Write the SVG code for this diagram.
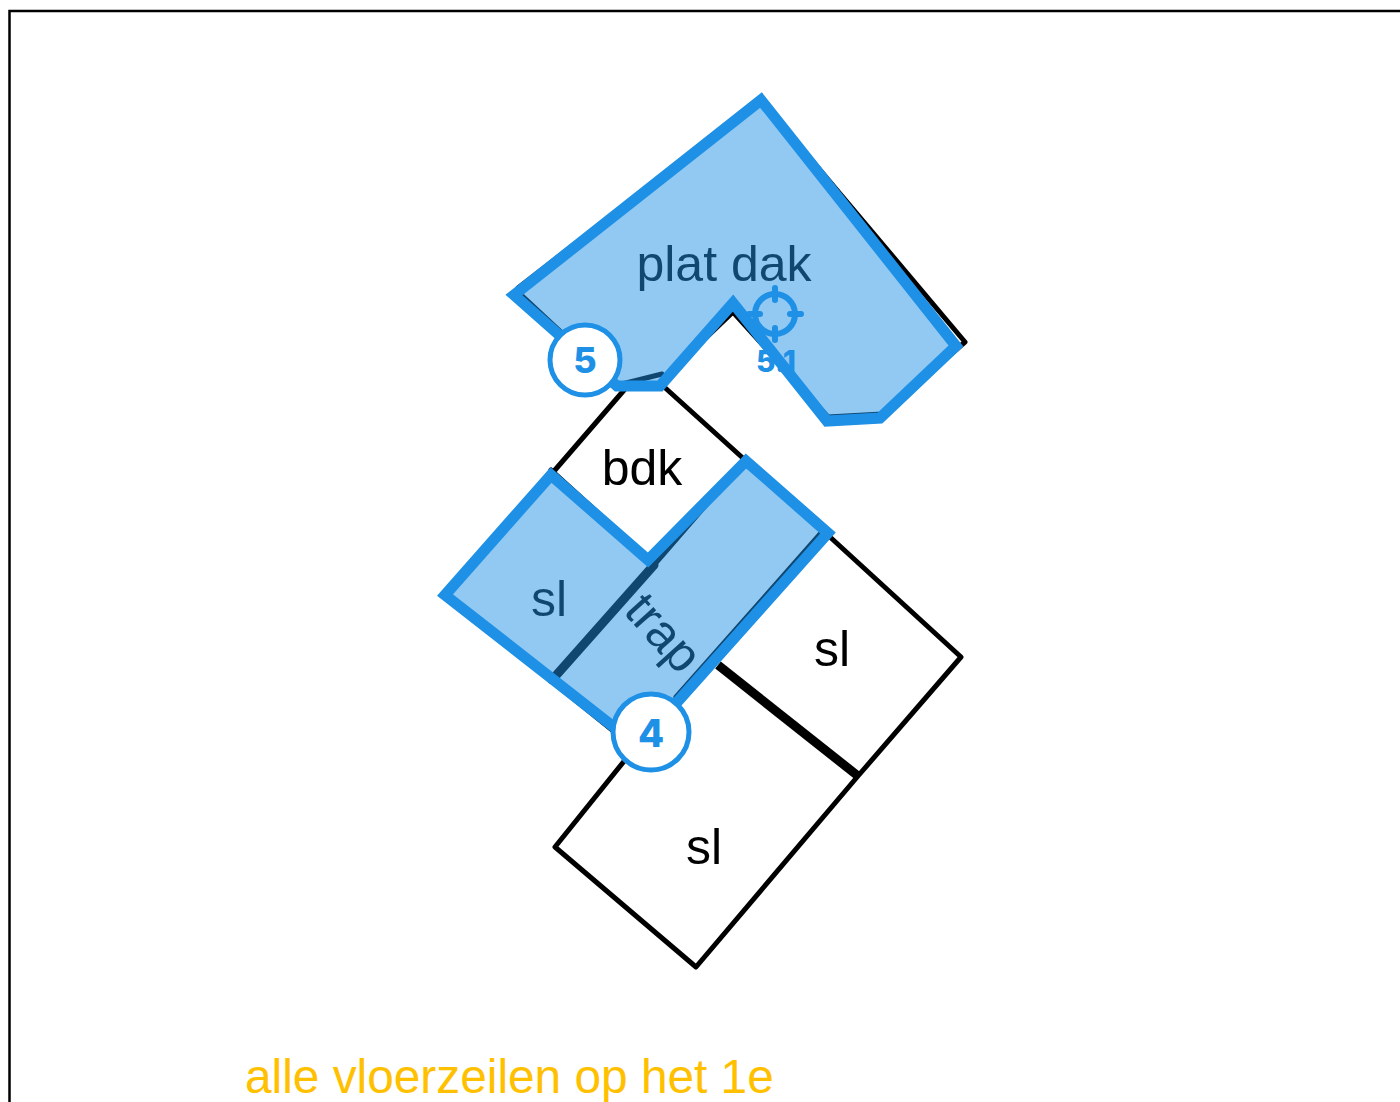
<svg xmlns="http://www.w3.org/2000/svg" width="1400" height="1102" viewBox="0 0 1400 1102">
<style>
.k{fill:none;stroke:#000;stroke-width:5;stroke-linejoin:round;stroke-linecap:round}
.b{fill:#1e90e6;fill-opacity:.49;stroke:#1e90e6;stroke-width:11;stroke-linejoin:miter;stroke-miterlimit:10}
.t{font-family:"Liberation Sans",Arial,sans-serif;font-size:50px;fill:#000;text-anchor:middle}
.n{font-family:Inter,"Open Sans","DejaVu Sans",sans-serif;font-weight:800;fill:#1e90e6;text-anchor:middle}
.c{fill:#fff;stroke:#1e90e6;stroke-width:5}
</style>
<rect id="frame" x="9.500" y="11" width="1400" height="1110" fill="#fff" stroke="#000" stroke-width="2.500"/>
<g id="plan">
<path class="k" d="M518 288L761 100L965 342L882 414L828 417L733 312L664 378L662 374L618 385L518 292Z"/>
<path class="k" d="M625 389L555 470M445 595L622 738M625 760L555 847L696 967L858 776L961 657L830 537M662 385L745 460M551 470L652 562"/>
<path class="k" style="stroke-width:9" d="M654 565L552 680"/>
<path class="k" style="stroke-width:9;stroke-linecap:butt" d="M718 665L858 776"/>
<path class="k" d="M745 460L654 565M821 533L676 697"/>
</g>
<g id="labels">
<text class="t" x="724" y="281">plat dak</text>
<text class="t" x="642" y="485">bdk</text>
<text class="t" x="549" y="616">sl</text>
<text class="t" x="832" y="666">sl</text>
<text class="t" x="704" y="864">sl</text>
<text class="t" transform="translate(651 644) rotate(48)">trap</text>
<text class="t" style="fill:#ffc000;text-anchor:start;font-size:47.800px" x="245" y="1093">alle vloerzeilen op het 1e</text>
</g>
<g id="zone5"><path class="b" d="M514 295L761 100L956 346L880 418L827 421L733 303L660 386L617 386Z"/></g>
<g id="zone4"><path class="b" d="M551 475L648 560L746 461L828 533L638 746L445 595Z"/></g>
<g id="marker51" fill="none" stroke="#1e90e6" stroke-width="6">
<circle cx="775" cy="314" r="20"/>
<path stroke-linecap="round" d="M775 288V300M775 328V340M749 314H760M790 314H801"/>
<text class="n" x="776" y="372" font-size="30" stroke="none">5.1</text>
</g>
<g id="badge5"><circle class="c" cx="585" cy="360" r="35"/><text class="n" x="585" y="373" font-size="36">5</text></g>
<g id="badge4"><circle class="c" cx="651" cy="732" r="38"/><text class="n" x="651" y="747" font-size="38">4</text></g>
</svg>
